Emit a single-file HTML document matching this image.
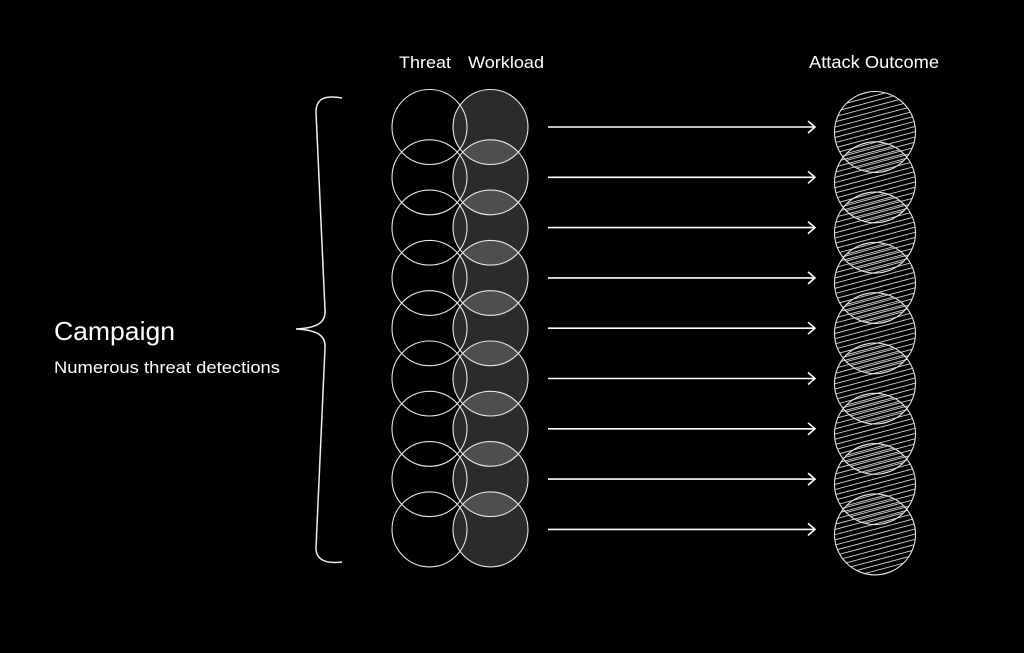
<!DOCTYPE html>
<html><head><meta charset="utf-8"><style>
html,body{margin:0;padding:0;background:#000;}
svg{display:block}
text{font-family:"Liberation Sans",sans-serif;fill:#fff}
</style></head><body>
<svg width="1024" height="653" viewBox="0 0 1024 653" xmlns="http://www.w3.org/2000/svg">
<defs id="defs"></defs>
<rect width="1024" height="653" fill="#000"/>
<text x="399" y="68" font-size="17" textLength="52" lengthAdjust="spacingAndGlyphs">Threat</text>
<text x="468" y="68" font-size="17" textLength="76" lengthAdjust="spacingAndGlyphs">Workload</text>
<text x="809" y="68" font-size="17.5" textLength="130" lengthAdjust="spacingAndGlyphs">Attack Outcome</text>
<text x="54" y="340" font-size="26" textLength="121" lengthAdjust="spacingAndGlyphs">Campaign</text>
<text x="54" y="373" font-size="17" textLength="226" lengthAdjust="spacingAndGlyphs">Numerous threat detections</text>
<path d="M342,98 C326,95 316,98 316,112 L325,310 C326,322 318,328 296,329 C318,330 326,336 325,348 L316,548 C316,560 326,564 342,562" fill="none" stroke="#eee" stroke-width="1.5"/>
<g id="rows">
</g>
<script>
var ns="http://www.w3.org/2000/svg",g=document.getElementById('rows'),d=document.getElementById('defs');
function mk(n,a,p){var e=document.createElementNS(ns,n);for(var k in a)e.setAttribute(k,a[k]);(p||g).appendChild(e);return e;}
function el(n,a){return mk(n,a,g);}
for(var i=0;i<9;i++){var y=127+i*50.3;
el('circle',{cx:490.5,cy:y,r:37.5,fill:'#fff','fill-opacity':0.17});
}
for(var i=0;i<9;i++){var y=127+i*50.3;
el('circle',{cx:429.5,cy:y,r:37.5,fill:'none',stroke:'#e6e6e6','stroke-width':1.1});
el('circle',{cx:490.5,cy:y,r:37.5,fill:'none',stroke:'#e6e6e6','stroke-width':1.1});
el('line',{x1:548,y1:y,x2:815,y2:y,stroke:'#fff','stroke-width':1.6});
el('path',{d:'M808,'+(y-6)+' L815,'+y+' L808,'+(y+6),fill:'none',stroke:'#fff','stroke-width':1.6});
var y2=132+i*50.3;
var cp=mk('clipPath',{id:'c'+i},d);
mk('circle',{cx:875,cy:y2,r:40.5},cp);
var gg=el('g',{'clip-path':'url(#c'+i+')'});
for(var k=-16;k<=16;k++){var yy=y2+k*5.2;
mk('line',{x1:830,y1:yy+12,x2:920,y2:yy-12,stroke:'#d0d0d0','stroke-width':0.9},gg);}
}
for(var i=0;i<9;i++){var y2=132+i*50.3;
el('circle',{cx:875,cy:y2,r:40.5,fill:'none',stroke:'#e6e6e6','stroke-width':1.1});}
</script>
</svg>
</body></html>
